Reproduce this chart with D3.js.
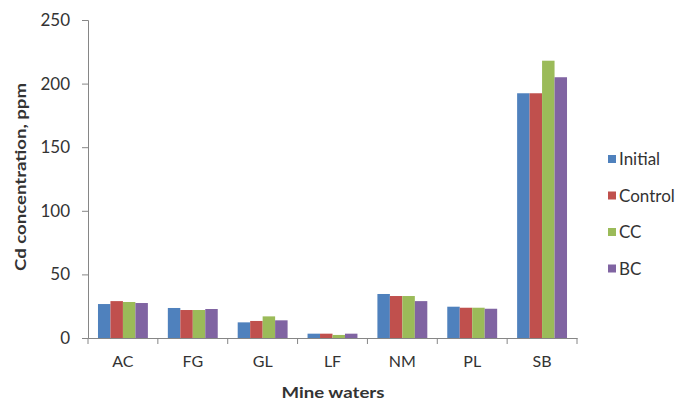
<!DOCTYPE html>
<html><head><meta charset="utf-8">
<script src="https://cdn.jsdelivr.net/npm/d3@7"></script>
<style>body{margin:0;background:#fff}svg{display:block}text{font-family:Lato,sans-serif;fill:#333}</style>
</head><body><svg id="c" width="686" height="403"></svg>
<script>
const categories = ["AC","FG","GL","LF","NM","PL","SB"];
const seriesNames = ["Initial","Control","CC","BC"];
const initial = [26.7, 23.6, 12.3, 3.4, 34.6, 24.6, 192.4];
const control = [29.0, 22.0, 13.4, 3.4, 33.0, 23.8, 192.4];
const cc      = [28.3, 22.0, 17.0, 2.4, 33.0, 23.8, 218.0];
const bc      = [27.5, 22.8, 13.9, 3.4, 29.0, 23.0, 205.0];
const yTicks = [0, 50, 100, 150, 200, 250];
const colors = ["#4F81BD","#C0504D","#9BBB59","#8064A2"];
const series = [initial, control, cc, bc];

const svg = d3.select("#c");
const L = 88, R = 577, T = 20, B = 338;
const x = d3.scaleBand().domain(categories).range([L, R]).paddingInner(0).paddingOuter(0);
const y = d3.scaleLinear().domain([0, 250]).range([B, T]);
const innerW = x.bandwidth() * 50 / 70;
const xs = d3.scaleBand().domain(seriesNames).range([(x.bandwidth() - innerW) / 2, (x.bandwidth() + innerW) / 2]);
series.forEach((vals, si) => {
  svg.append("g").selectAll("rect").data(vals).join("rect")
    .attr("x", (d, i) => x(categories[i]) + xs(seriesNames[si]))
    .attr("width", xs.bandwidth())
    .attr("y", d => y(d))
    .attr("height", d => B - y(d))
    .attr("fill", colors[si]);
});
// y axis
const ya = svg.append("g").attr("transform", `translate(${L},0)`)
  .call(d3.axisLeft(y).tickValues(yTicks).tickSize(6).tickPadding(12));
ya.select(".domain").attr("stroke", "#868686");
ya.selectAll(".tick line").attr("stroke", "#868686");
ya.selectAll(".tick text").attr("font-size", 17).attr("fill", "#404040").attr("font-family", "Lato");
// x axis
const xa = svg.append("g").attr("transform", `translate(0,${B})`)
  .call(d3.axisBottom(x).tickSize(0).tickPadding(18));
xa.select(".domain").attr("stroke", "#868686");
xa.selectAll(".tick text").attr("font-size", 16).attr("fill", "#404040").attr("font-family", "Lato");
// category separators
svg.append("g").selectAll("line").data(d3.range(categories.length + 1)).join("line")
  .attr("x1", i => L + i * x.step()).attr("x2", i => L + i * x.step())
  .attr("y1", B).attr("y2", B + 6).attr("stroke", "#868686");
// titles
svg.append("text").attr("transform", "translate(26,177) rotate(-90)")
  .attr("text-anchor", "middle").attr("font-size", 16).attr("font-weight", "bold").attr("fill", "#1a1a1a").attr("font-family", "Lato")
  .attr("textLength", 188).attr("lengthAdjust", "spacingAndGlyphs")
  .text("Cd concentration, ppm");
svg.append("text").attr("x", 333).attr("y", 398).attr("text-anchor", "middle").attr("font-family", "Lato")
  .attr("font-size", 16).attr("font-weight", "bold").attr("fill", "#1a1a1a")
  .attr("textLength", 103).attr("lengthAdjust", "spacingAndGlyphs").text("Mine waters");
// legend
const lg = svg.append("g").selectAll("g").data(seriesNames).join("g")
  .attr("transform", (d, i) => `translate(608,${159 + i * 36.5})`);
lg.append("rect").attr("x", 0).attr("y", -4).attr("width", 8).attr("height", 8).attr("fill", (d, i) => colors[i]);
lg.append("text").attr("x", 11).attr("y", 0).attr("dy", "0.36em").attr("font-size", 17).attr("font-family", "Lato").attr("fill", "#333").text(d => d);
</script></body></html>
